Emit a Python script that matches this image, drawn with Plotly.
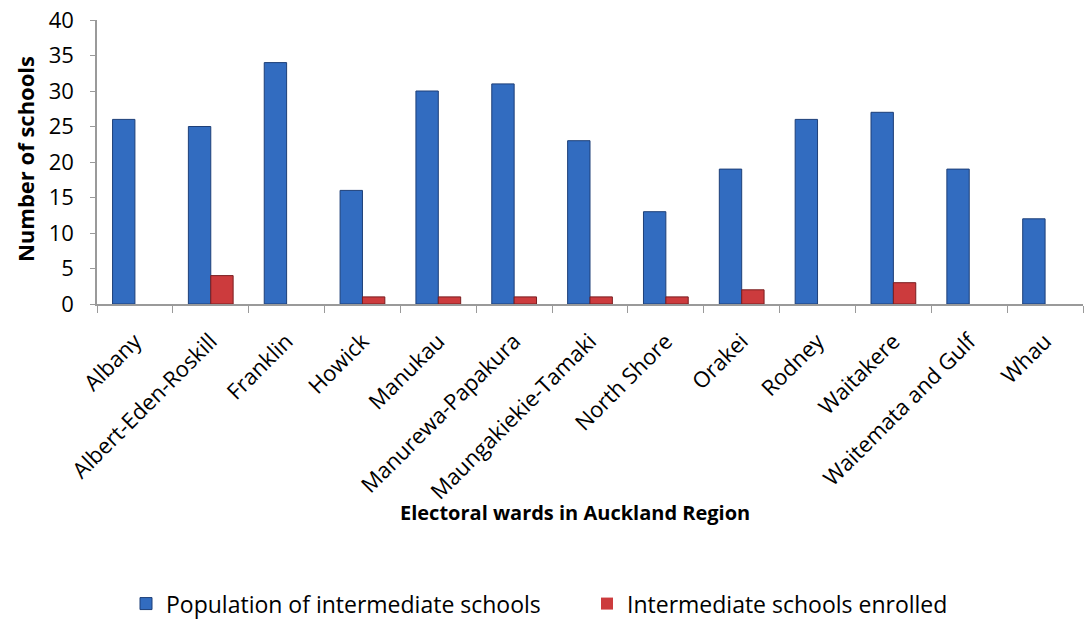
import plotly.graph_objects as go

wards = ["Albany", "Albert-Eden-Roskill", "Franklin", "Howick", "Manukau",
         "Manurewa-Papakura", "Maungakiekie-Tamaki", "North Shore", "Orakei",
         "Rodney", "Waitakere", "Waitemata and Gulf", "Whau"]
population = [26, 25, 34, 16, 30, 31, 23, 13, 19, 26, 27, 19, 12]
enrolled = [0, 4, 0, 1, 1, 1, 1, 1, 2, 0, 3, 0, 0]

FONT = "Open Sans"

fig = go.Figure()
fig.add_trace(go.Bar(x=wards, y=population, name="Population of intermediate schools",
                     marker=dict(color="#326CC0", line=dict(color="#1D3F78", width=1))))
fig.add_trace(go.Bar(x=wards, y=enrolled, name="Intermediate schools enrolled",
                     marker=dict(color="#CC3B3D",
                                 line=dict(color="#7A1E20",
                                           width=[1 if v > 0 else 0 for v in enrolled]))))

fig.update_layout(
    width=1084, height=626,
    margin=dict(l=97, r=1, t=20, b=320),
    paper_bgcolor="white", plot_bgcolor="white",
    barmode="group", bargap=0.41, bargroupgap=0,
    font=dict(family=FONT, color="black"),
    showlegend=True,
    legend=dict(orientation="h", x=(126-97)/986, y=-1.055, xanchor="left", yanchor="middle",
                font=dict(size=23, family=FONT), itemwidth=30, tracegroupgap=0,
                entrywidth=416),
    xaxis=dict(showline=True, linecolor="#9A9A9A", linewidth=1.5,
               ticks="outside", ticklen=7, tickcolor="#9A9A9A", tickson="boundaries",
               tickangle=-45, tickfont=dict(size=22, family=FONT), ticklabelstandoff=14),
    yaxis=dict(range=[0, 40], dtick=5, showline=True, linecolor="#9A9A9A", linewidth=1.5,
               ticks="outside", ticklen=5, tickcolor="#9A9A9A", showgrid=False,
               zeroline=False, tickfont=dict(size=22, family=FONT), ticklabelstandoff=12),
    annotations=[
        dict(text="<b>Electoral wards in Auckland Region</b>", xref="paper", yref="paper",
             x=(575-97)/986, y=(306-516)/286, showarrow=False, xanchor="center",
             yanchor="middle", font=dict(size=20, family=FONT)),
        dict(text="<b>Number of schools</b>", xref="paper", yref="paper",
             x=(25-97)/986, y=(306-160)/286, showarrow=False, textangle=-90,
             xanchor="center", yanchor="middle", font=dict(size=22, family=FONT)),
    ],
)

fig.write_html("out.html")
